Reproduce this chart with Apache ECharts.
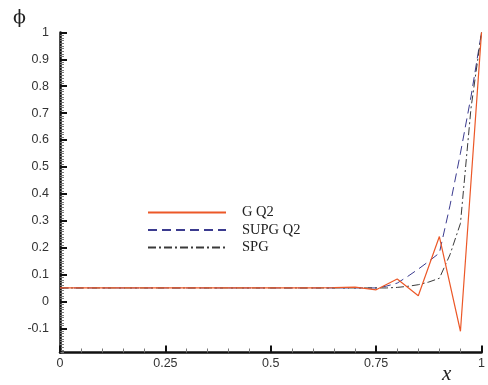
<!DOCTYPE html>
<html>
<head>
<meta charset="utf-8">
<script src="https://cdn.jsdelivr.net/npm/echarts@6/dist/echarts.min.js"></script>
<style>html,body{margin:0;padding:0;background:#fff;}#c{width:488px;height:385px;}</style>
</head>
<body>
<div id="c"></div>
<script>
// ---- data ----
const seriesNames = ['G Q2', 'SUPG Q2', 'SPG'];
const xG = [0, 0.05, 0.1, 0.15, 0.2, 0.25, 0.3, 0.35, 0.4, 0.45, 0.5, 0.55, 0.6, 0.65, 0.7, 0.75, 0.8, 0.85, 0.9, 0.95, 1.0];
const yG = [0.05, 0.05, 0.05, 0.05, 0.05, 0.05, 0.05, 0.05, 0.05, 0.05, 0.05, 0.05, 0.05, 0.051, 0.053, 0.043, 0.083, 0.021, 0.241, -0.111, 1.0];
const xS = [0, 0.05, 0.1, 0.15, 0.2, 0.25, 0.3, 0.35, 0.4, 0.45, 0.5, 0.55, 0.6, 0.65, 0.7, 0.75, 0.775, 0.8, 0.825, 0.85, 0.875, 0.9, 0.925, 0.95, 0.975, 1.0];
const ySUPG = [0.05, 0.05, 0.05, 0.05, 0.05, 0.05, 0.05, 0.05, 0.05, 0.05, 0.05, 0.05, 0.05, 0.05, 0.05, 0.05, 0.057, 0.068, 0.093, 0.12, 0.149, 0.18, 0.355, 0.551, 0.761, 1.0];
const ySPG = [0.05, 0.05, 0.05, 0.05, 0.05, 0.05, 0.05, 0.05, 0.05, 0.05, 0.05, 0.05, 0.05, 0.05, 0.05, 0.05, 0.05, 0.052, 0.056, 0.062, 0.072, 0.086, 0.173, 0.29, 0.718, 1.0];
const xTicks = [0, 0.25, 0.5, 0.75, 1];
const yTicks = [-0.1, 0, 0.1, 0.2, 0.3, 0.4, 0.5, 0.6, 0.7, 0.8, 0.9, 1];
const yMin = -0.19, yMax = 1;

const pairs = (xs, ys) => xs.map((x, i) => [x, ys[i]]);

const chart = echarts.init(document.getElementById('c'), null, {renderer: 'canvas'});
const labelStyle = {fontFamily: 'Liberation Sans', fontSize: 12.5, color: '#333'};
chart.setOption({
  animation: false,
  backgroundColor: '#fff',
  title: [
    {text: '\u03D5', left: 8, top: 4, textStyle: {fontFamily: 'DejaVu Serif', fontSize: 19, fontWeight: 'normal', color: '#222'}},
    {text: 'x', left: 437, top: 359, textStyle: {fontFamily: 'Liberation Serif', fontStyle: 'italic', fontSize: 21, fontWeight: 'normal', color: '#222'}}
  ],
  grid: {left: 60, right: 1, top: 32.4, bottom: 32.5, containLabel: false},
  legend: {
    orient: 'vertical', left: 142, top: 200, itemWidth: 78, itemHeight: 14, itemGap: 2.5,
    itemStyle: {opacity: 0},
    textStyle: {fontFamily: 'Liberation Serif', fontSize: 14.5, color: '#222', padding: [0, 0, 0, 11]},
    data: seriesNames
  },
  xAxis: {
    type: 'value', min: xTicks[0], max: xTicks[xTicks.length - 1], interval: 0.25,
    axisLine: {onZero: false, lineStyle: {color: '#111', width: 2.5}},
    axisTick: {inside: true, length: 7, lineStyle: {color: '#111', width: 2}},
    minorTick: {show: true, splitNumber: 5, length: 4, lineStyle: {color: '#777', width: 1}},
    splitLine: {show: false},
    minorSplitLine: {show: false},
    axisLabel: Object.assign({margin: 5}, labelStyle)
  },
  yAxis: [
    {
      type: 'value', min: yMin, max: yMax, interval: 0.01, position: 'left',
      axisLine: {onZero: false, lineStyle: {color: '#111', width: 2.5}},
      axisTick: {inside: true, length: 4, lineStyle: {color: '#777', width: 1}},
      splitLine: {show: false},
      axisLabel: {show: false}
    },
    {
      type: 'value', min: yMin, max: yMax, position: 'left',
      axisLine: {show: false, onZero: false},
      axisTick: {inside: true, length: 7, customValues: yTicks, lineStyle: {color: '#111', width: 2}},
      splitLine: {show: false},
      axisLabel: Object.assign({margin: 11, customValues: yTicks,
        formatter: v => String(Math.round(v * 100) / 100)}, labelStyle)
    }
  ],
  series: [
    {name: seriesNames[0], type: 'line', symbol: 'none', z: 5, data: pairs(xG, yG),
     lineStyle: {color: '#ec5828', width: 1.2}, itemStyle: {color: '#ec5828'}},
    {name: seriesNames[1], type: 'line', symbol: 'none', z: 3, data: pairs(xS, ySUPG),
     lineStyle: {color: '#3b3b8f', width: 1, type: [9, 5]}, itemStyle: {color: '#3b3b8f'}},
    {name: seriesNames[2], type: 'line', symbol: 'none', z: 4, data: pairs(xS, ySPG),
     lineStyle: {color: '#3a3a3a', width: 1, type: [8, 3, 2, 3]}, itemStyle: {color: '#3a3a3a'}}
  ]
});
</script>
</body>
</html>
